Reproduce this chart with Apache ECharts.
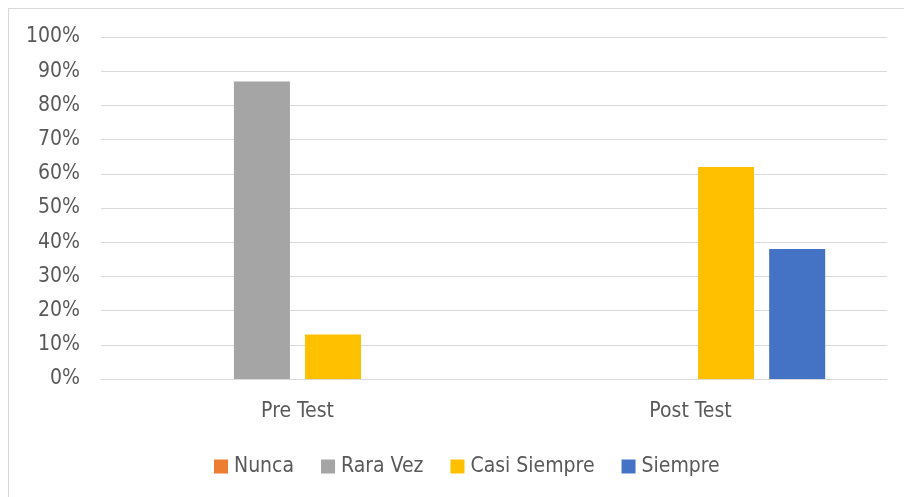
<!DOCTYPE html>
<html><head><meta charset="utf-8">
<script src="https://cdn.jsdelivr.net/npm/echarts@6/dist/echarts.min.js"></script>
<style>
html,body{margin:0;padding:0;background:#fff;}
#frame{position:absolute;left:8px;top:8px;width:1000px;height:1000px;border:1px solid #d9d9d9;box-sizing:border-box;}
#c{position:absolute;left:0;top:0;width:904px;height:497px;}
</style></head>
<body>
<div id="frame"></div>
<div id="c"></div>
<script>
const categories = ['Pre Test', 'Post Test'];
const seriesNames = ['Nunca', 'Rara Vez', 'Casi Siempre', 'Siempre'];
const nunca = [0, 0];
const raraVez = [87, 0];
const casiSiempre = [13, 62];
const siempre = [0, 38];
const colors = ['#ED7D31', '#A5A5A5', '#FFC000', '#4472C4'];
const yTicks = [0, 10, 20, 30, 40, 50, 60, 70, 80, 90, 100];

const values = [nunca, raraVez, casiSiempre, siempre];
const font = '"Liberation Sans Narrow", "DejaVu Sans Condensed", "Open Sans", sans-serif';
const chart = echarts.init(document.getElementById('c'), null, {renderer: 'canvas'});
chart.setOption({
  animation: false,
  color: colors,
  grid: {left: 101, right: 17, top: 37, bottom: 118, containLabel: false},
  legend: {
    data: seriesNames,
    top: 456,
    left: 214,
    padding: 0,
    itemWidth: 14, itemHeight: 14, itemGap: 27,
    icon: 'rect',
    textStyle: {color: '#595959', fontSize: 21, fontFamily: font, padding: [0, 0, 0, 1]}
  },
  xAxis: {
    type: 'category',
    data: categories,
    axisLine: {lineStyle: {color: '#d9d9d9', width: 1}},
    axisTick: {show: false},
    axisLabel: {color: '#595959', fontSize: 21, fontFamily: font, margin: 22}
  },
  yAxis: {
    type: 'value',
    min: yTicks[0], max: yTicks[yTicks.length - 1], interval: 10,
    axisLine: {show: false},
    axisTick: {show: false},
    splitLine: {lineStyle: {color: '#d9d9d9', width: 1}},
    axisLabel: {color: '#595959', fontSize: 21, fontFamily: font, margin: 21, formatter: v => v + '%'}
  },
  series: seriesNames.map((n, i) => ({
    name: n,
    type: 'bar',
    data: values[i],
    barWidth: 56,
    barGap: '27%',
    itemStyle: {color: colors[i]}
  }))
});
</script>
</body></html>
